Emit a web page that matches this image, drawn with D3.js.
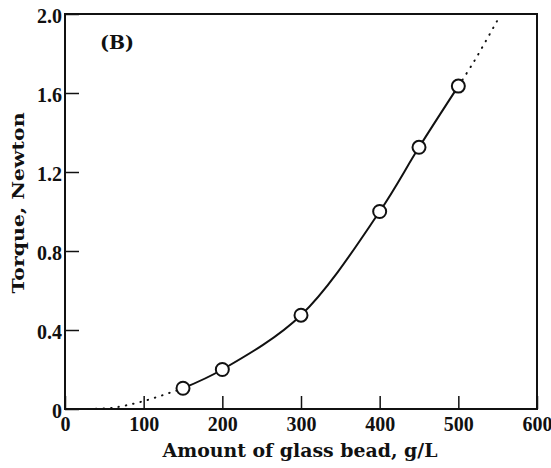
<!DOCTYPE html>
<html>
<head>
<meta charset="utf-8">
<script src="https://cdn.jsdelivr.net/npm/d3@7"></script>
<style>
  body { margin: 0; background: #fff; }
  text { font-family: "DejaVu Serif", "Liberation Serif", serif; font-weight: bold; fill: #111; }
  .tick text { font-family: "Liberation Serif", serif; }
</style>
</head>
<body>
<div id="chart"></div>
<script>
// measured points
const beadAmount = [150, 200, 300, 400, 450, 500];
const torque = [0.105, 0.2, 0.475, 1.0, 1.325, 1.635];

// dotted extrapolation of the fit, both ends
const lowX = [30, 60, 100, 150];
const lowY = [0, 0.006, 0.04, 0.105];
const highX = [500, 520, 550];
const highY = [1.635, 1.76, 1.97];

const xTicks = [0, 100, 200, 300, 400, 500, 600];
const yTicks = [0, 0.4, 0.8, 1.2, 1.6, 2.0];

const width = 551, height = 468;
const margin = {top: 14, right: 14, bottom: 59, left: 65};

const svg = d3.select('#chart')
  .append('svg')
  .attr('width', width)
  .attr('height', height);

const x = d3.scaleLinear()
  .domain([0, 600])
  .range([margin.left, width - margin.right]);

const y = d3.scaleLinear()
  .domain([0, 2.0])
  .range([height - margin.bottom, margin.top]);

// frame
svg.append('rect')
  .attr('x', x(0)).attr('y', y(2))
  .attr('width', x(600) - x(0))
  .attr('height', y(0) - y(2))
  .attr('fill', 'none')
  .attr('stroke', '#111')
  .attr('stroke-width', 2);

// axes, ticks pointing in
function xAxis(g) {
  g.attr('transform', `translate(0,${y(0)})`)
    .call(d3.axisBottom(x).tickValues(xTicks).tickSize(-13).tickPadding(6).tickFormat(d3.format('d')))
    .attr('font-size', '20px')
    .call(g => g.select('.domain').remove())
    .call(g => g.selectAll('line').attr('stroke', '#111').attr('stroke-width', 1.5))
    .call(g => g.selectAll('text').attr('font-family', null).attr('dy', '0.78em'));
}

function yAxis(g) {
  g.attr('transform', `translate(${x(0)},0)`)
    .call(d3.axisLeft(y).tickValues(yTicks).tickSize(-14).tickPadding(3)
      .tickFormat(d => d === 0 ? '0' : d3.format('.1f')(d)))
    .attr('font-size', '20px')
    .call(g => g.select('.domain').remove())
    .call(g => g.selectAll('line').attr('stroke', '#111').attr('stroke-width', 1.5))
    .call(g => g.selectAll('text').attr('font-family', null).attr('dy', '0.4em'));
}

svg.append('g').call(xAxis);
svg.append('g').call(yAxis);

// axis titles
svg.append('text')
  .attr('x', 300)
  .attr('y', 457)
  .attr('text-anchor', 'middle')
  .attr('font-size', '19px')
  .attr('textLength', 275)
  .attr('lengthAdjust', 'spacingAndGlyphs')
  .text('Amount of glass bead, g/L');

svg.append('text')
  .attr('transform', `translate(24,203) rotate(-90)`)
  .attr('text-anchor', 'middle')
  .attr('font-size', '17px')
  .attr('textLength', 181)
  .attr('lengthAdjust', 'spacingAndGlyphs')
  .text('Torque, Newton');

svg.append('text')
  .attr('x', 100).attr('y', 49)
  .attr('font-size', '19px')
  .text('(B)');

// curves
const line = d3.line()
  .x(d => x(d[0]))
  .y(d => y(d[1]))
  .curve(d3.curveCatmullRom.alpha(0.5));

svg.append('path')
  .datum(d3.zip(beadAmount, torque))
  .attr('d', line)
  .attr('fill', 'none')
  .attr('stroke', '#111')
  .attr('stroke-width', 2);

[d3.zip(lowX, lowY), d3.zip(highX, highY)].forEach(pts => {
  svg.append('path')
    .datum(pts)
    .attr('d', line)
    .attr('fill', 'none')
    .attr('stroke', '#111')
    .attr('stroke-width', 2)
    .attr('stroke-linecap', 'round')
    .attr('stroke-dasharray', '0.5,7');
});

// data markers
svg.append('g')
  .selectAll('circle')
  .data(d3.zip(beadAmount, torque))
  .join('circle')
    .attr('cx', d => x(d[0]))
    .attr('cy', d => y(d[1]))
    .attr('r', 6.5)
    .attr('fill', '#fff')
    .attr('stroke', '#111')
    .attr('stroke-width', 2);
</script>
</body>
</html>
